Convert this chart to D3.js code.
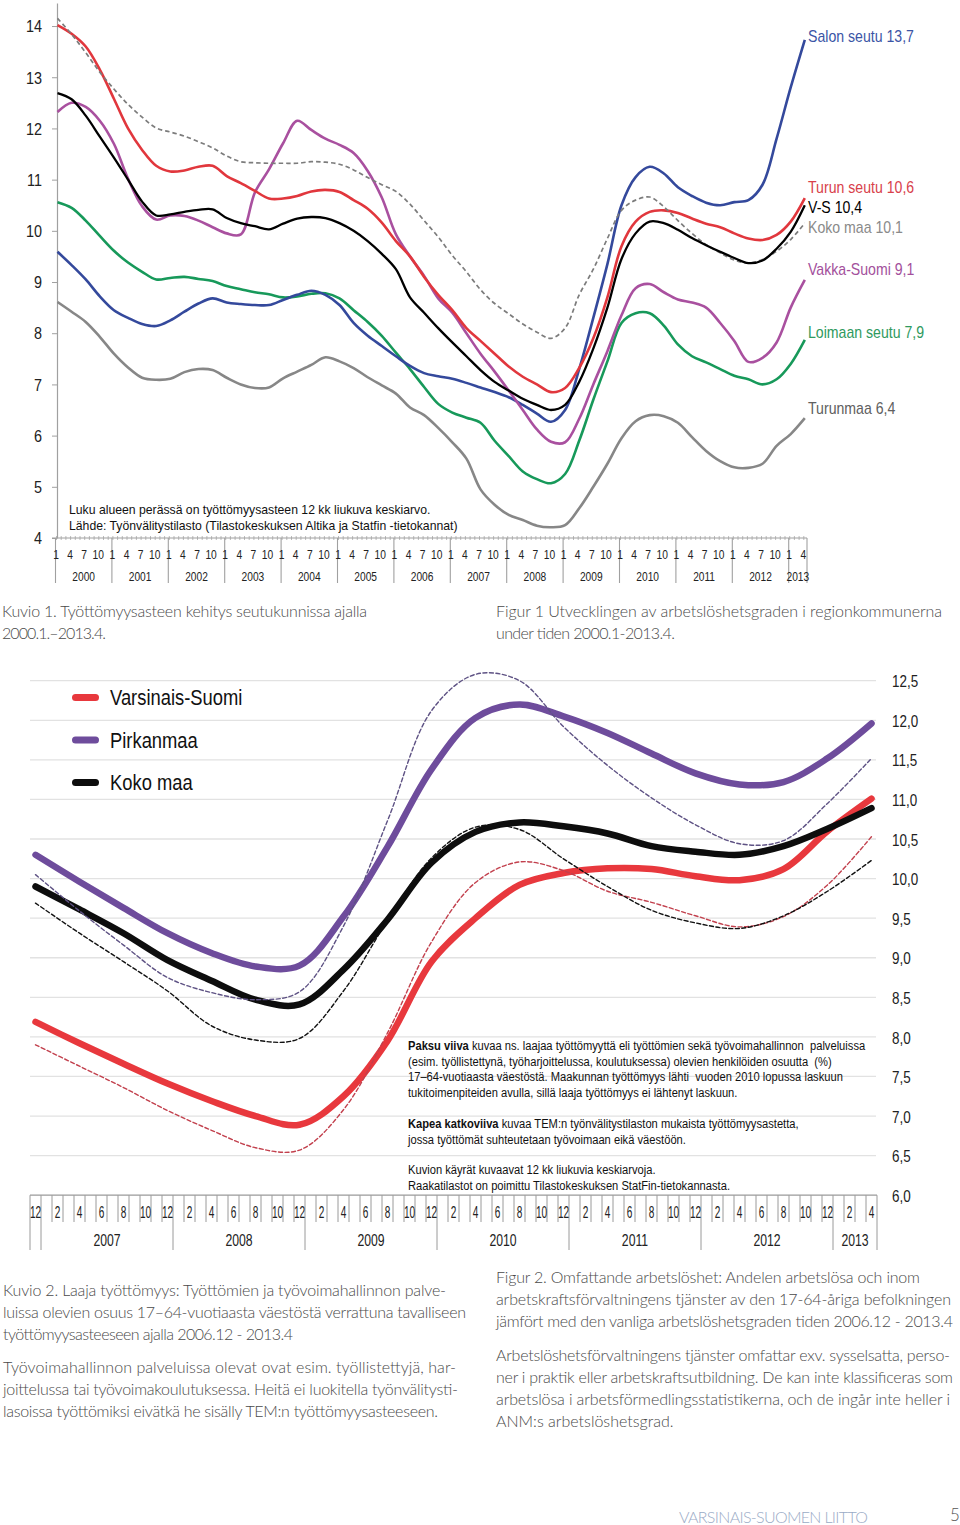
<!DOCTYPE html>
<html><head><meta charset="utf-8">
<script src="https://cdn.jsdelivr.net/npm/d3@7/dist/d3.min.js"></script>
<style>html,body{margin:0;padding:0;background:#fff}svg{display:block}</style>
</head><body>
<svg id="chart" width="960" height="1525" xmlns="http://www.w3.org/2000/svg"></svg>
<script>
// ================= DATA : Kuvio 1 =================
const periods1 = [
 "2000-01","2000-04","2000-07","2000-10","2001-01","2001-04","2001-07","2001-10",
 "2002-01","2002-04","2002-07","2002-10","2003-01","2003-04","2003-07","2003-10",
 "2004-01","2004-04","2004-07","2004-10","2005-01","2005-04","2005-07","2005-10",
 "2006-01","2006-04","2006-07","2006-10","2007-01","2007-04","2007-07","2007-10",
 "2008-01","2008-04","2008-07","2008-10","2009-01","2009-04","2009-07","2009-10",
 "2010-01","2010-04","2010-07","2010-10","2011-01","2011-04","2011-07","2011-10",
 "2012-01","2012-04","2012-07","2012-10","2013-01","2013-04"];
const years1 = ["2000","2001","2002","2003","2004","2005","2006","2007","2008","2009","2010","2011","2012","2013"];
const monthTickLabels1 = ["1","4","7","10"];
const yTicks1 = [4,5,6,7,8,9,10,11,12,13,14];

const salonSeutu = [9.59,9.33,9.05,8.72, 8.45,8.30,8.18,8.14, 8.25,8.42,8.58,8.68, 8.60,8.57,8.55,8.55,
 8.65,8.75,8.83,8.75, 8.55,8.20,7.95,7.75, 7.55,7.36,7.22,7.16, 7.11,7.03,6.94,6.85,
 6.75,6.60,6.43,6.27, 6.50,7.30,8.30,9.35, 10.50,11.05,11.25,11.12, 10.85,10.68,10.55,10.50,
 10.56,10.60,10.90,11.80, 12.80,13.73];
const turunSeutu = [14.02,13.85,13.60,13.15, 12.58,12.00,11.58,11.27, 11.16,11.18,11.25,11.27, 11.07,10.93,10.78,10.63,
 10.63,10.68,10.77,10.80, 10.76,10.60,10.43,10.16, 9.80,9.50,9.10,8.75, 8.45,8.10,7.85,7.60,
 7.35,7.15,7.00,6.85, 6.93,7.32,7.90,8.70, 9.70,10.18,10.37,10.40, 10.35,10.24,10.14,10.07,
 9.95,9.85,9.82,9.92, 10.18,10.64];
const varsinaisSuomi = [12.69,12.57,12.25,11.84, 11.43,11.00,10.57,10.30, 10.32,10.37,10.41,10.42, 10.25,10.15,10.09,10.03,
 10.14,10.24,10.27,10.25, 10.15,10.00,9.80,9.55, 9.25,8.70,8.40,8.10, 7.82,7.55,7.28,7.05,
 6.88,6.72,6.60,6.50, 6.60,7.05,7.70,8.50, 9.45,9.95,10.18,10.15, 10.02,9.86,9.72,9.59,
 9.47,9.37,9.42,9.65, 9.98,10.50];
const kokoMaa = [14.15,13.84,13.48,13.10, 12.77,12.47,12.22,12.01, 11.93,11.85,11.74,11.62, 11.46,11.35,11.33,11.32,
 11.32,11.32,11.35,11.34, 11.30,11.19,11.04,10.90, 10.77,10.52,10.20,9.88, 9.52,9.20,8.85,8.58,
 8.38,8.18,8.02,7.90, 8.10,8.75,9.25,9.85, 10.40,10.60,10.66,10.47, 10.20,9.95,9.73,9.57,
 9.43,9.37,9.44,9.60, 9.83,10.15];
const vakkaSuomi = [12.32,12.50,12.42,12.15, 11.70,11.02,10.48,10.22, 10.30,10.29,10.20,10.07, 9.95,9.93,10.75,11.20,
 11.71,12.15,11.97,11.80, 11.68,11.52,11.17,10.65, 9.93,9.50,9.12,8.68, 8.40,8.00,7.60,7.25,
 6.88,6.50,6.12,5.88, 5.87,6.33,7.00,7.65, 8.35,8.88,8.96,8.80, 8.66,8.60,8.50,8.20,
 7.85,7.44,7.52,7.82, 8.50,9.04];
const loimaanSeutu = [10.56,10.45,10.20,9.90, 9.61,9.38,9.20,9.05, 9.08,9.10,9.06,9.02, 8.92,8.86,8.80,8.76,
 8.70,8.72,8.77,8.78, 8.68,8.45,8.22,7.95, 7.62,7.30,6.95,6.62, 6.45,6.35,6.25,5.90,
 5.60,5.30,5.15,5.07, 5.25,5.90,6.70,7.45, 8.20,8.39,8.39,8.15, 7.78,7.55,7.43,7.30,
 7.17,7.10,7.00,7.10, 7.40,7.87];
const turunmaa = [8.61,8.42,8.22,7.93, 7.60,7.33,7.13,7.09, 7.11,7.24,7.30,7.28, 7.13,7.00,6.93,6.94,
 7.12,7.25,7.38,7.53, 7.45,7.32,7.14,6.98, 6.82,6.55,6.40,6.15, 5.87,5.55,4.95,4.65,
 4.45,4.35,4.24,4.21, 4.25,4.58,5.00,5.45, 5.95,6.28,6.40,6.38, 6.25,5.97,5.70,5.50,
 5.38,5.37,5.45,5.80, 6.03,6.34];
const endLabels1 = ["Salon seutu 13,7","Turun seutu 10,6","V-S 10,4","Koko maa 10,1","Vakka-Suomi 9,1","Loimaan seutu 7,9","Turunmaa 6,4"];

// ================= DATA : Kuvio 2 =================
const periods2 = ["2006-12","2007-04","2007-08","2007-12","2008-04","2008-08","2008-12","2009-04","2009-08","2009-12",
 "2010-04","2010-08","2010-12","2011-04","2011-08","2011-12","2012-04","2012-08","2012-12","2013-04"];
const monthTickLabels2 = ["12","2","4","6","8","10"];
const years2 = ["2007","2008","2009","2010","2011","2012","2013"];
const yTicks2 = [6.0,6.5,7.0,7.5,8.0,8.5,9.0,9.5,10.0,10.5,11.0,11.5,12.0,12.5];
const varsinaisSuomiLaaja = [8.19,7.92,7.66,7.41,7.19,7.00,6.89,7.25,7.95,8.95,9.50,9.92,10.07,10.13,10.12,10.03,9.98,10.12,10.60,11.01];
const pirkanmaaLaaja      = [10.30,9.96,9.63,9.31,9.06,8.89,8.90,9.52,10.40,11.38,12.03,12.20,12.05,11.84,11.58,11.33,11.19,11.22,11.52,11.96];
const kokoMaaLaaja        = [9.90,9.61,9.31,8.97,8.71,8.47,8.41,8.85,9.48,10.20,10.59,10.71,10.66,10.57,10.41,10.34,10.30,10.41,10.63,10.89];
const varsinaisSuomiTem   = [7.90,7.63,7.36,7.07,6.82,6.60,6.57,7.08,8.05,9.20,9.95,10.21,10.10,9.84,9.70,9.53,9.39,9.52,9.92,10.53];
const pirkanmaaTem        = [10.05,9.59,9.16,8.75,8.56,8.47,8.57,9.40,10.73,12.12,12.58,12.50,11.92,11.43,11.02,10.68,10.44,10.48,10.95,11.52];
const kokoMaaTem          = [9.69,9.31,8.95,8.58,8.14,7.96,7.98,8.58,9.47,10.26,10.65,10.62,10.25,9.90,9.60,9.44,9.37,9.53,9.84,10.23];
const legend2 = ["Varsinais-Suomi","Pirkanmaa","Koko maa"];

// ================= RENDER =================
const SANS = '"Liberation Sans",Arial,sans-serif';
const CAPF = 'Lato,"Open Sans","Noto Sans",sans-serif';
const svg = d3.select("#chart");
const parse = p => p.split("-").map(Number);
// condense text horizontally (narrow typeface look)
function squeeze(sel, f){
  sel.each(function(){
    const w = this.getComputedTextLength();
    d3.select(this).attr("textLength", (w*f).toFixed(1)).attr("lengthAdjust","spacingAndGlyphs");
  });
}

// ---------- Kuvio 1 ----------
const idx1 = p => { const [y,m] = parse(p); return (y-2000)*12 + (m-1); };
const x1 = d3.scaleLinear().domain([0,159]).range([57.5,804.8]);
const y1 = d3.scaleLinear().domain([4,14.45]).range([538,3]);
const g1 = svg.append("g");

const yAx1 = g1.append("g").attr("transform","translate(57,0)")
  .call(d3.axisLeft(y1).tickValues(yTicks1).tickSize(5).tickSizeOuter(0).tickPadding(10).tickFormat(d3.format("d")));
yAx1.select(".domain").attr("stroke","#a0a0a0").attr("stroke-width",1.2);
yAx1.selectAll(".tick line").attr("stroke","#a0a0a0");
yAx1.selectAll(".tick text").attr("font-family",SANS).attr("font-size",16).attr("fill","#222").attr("dy","0.36em");
squeeze(yAx1.selectAll(".tick text"), 0.9);

const xAx1 = g1.append("g").attr("transform","translate(-1.5,536)")
  .call(d3.axisBottom(x1).tickValues(d3.range(0,160)).tickSize(4).tickSizeOuter(0).tickFormat(""));
xAx1.select(".domain").remove();
xAx1.selectAll(".tick line").attr("stroke","#aaa").attr("stroke-width",0.8);
g1.append("line").attr("x1",52).attr("x2",807).attr("y1",538).attr("y2",538).attr("stroke","#a0a0a0").attr("stroke-width",1.2);

const yearStart1 = years1.map((y,i)=> i*12);
g1.selectAll(".ysep").data(yearStart1.concat([null])).join("line")
  .attr("x1",d=> d===null ? 807 : x1(d)-2).attr("x2",d=> d===null ? 807 : x1(d)-2)
  .attr("y1",538).attr("y2",583).attr("stroke","#a0a0a0").attr("stroke-width",1.1);
const yl1 = g1.selectAll(".ylab").data(years1).join("text")
  .attr("x",(d,i)=> { const a = x1(i*12)-2, b = i===13 ? 807 : x1(i*12+12)-2; return (a+b)/2; })
  .attr("y",581).attr("text-anchor","middle").attr("font-family",SANS).attr("font-size",12).attr("fill","#222").text(d=>d);
squeeze(yl1, 0.85);
const monthTicks1 = [];
years1.forEach((y,i)=> monthTickLabels1.forEach(m=> { const k = i*12 + (+m-1); if (k<=159) monthTicks1.push({k, m}); }));
const ml1 = g1.selectAll(".mlab").data(monthTicks1).join("text")
  .attr("x",d=> x1(d.k)-1.5).attr("y",559).attr("text-anchor","middle")
  .attr("font-family",SANS).attr("font-size",12).attr("fill","#222").text(d=>d.m);
squeeze(ml1, 0.85);

const series1 = [
  {values: turunmaa,       color:"#878787", w:2.6},
  {values: loimaanSeutu,   color:"#17995a", w:2.6},
  {values: salonSeutu,     color:"#34499c", w:2.6},
  {values: vakkaSuomi,     color:"#a9509f", w:2.6},
  {values: turunSeutu,     color:"#e1373d", w:2.6},
  {values: kokoMaa,        color:"#7c7c7c", w:1.7, dash:"4.5,3"},
  {values: varsinaisSuomi, color:"#000000", w:2.3}
];
const line1 = d3.line().x((d,i)=> x1(idx1(periods1[i]))).y(d=> y1(d)).curve(d3.curveCatmullRom.alpha(0.5));
g1.selectAll(".s1").data(series1).join("path")
  .attr("d",d=> line1(d.values)).attr("fill","none").attr("stroke",d=>d.color)
  .attr("stroke-width",d=>d.w).attr("stroke-dasharray",d=>d.dash||null).attr("stroke-linejoin","round");

const labelStyle1 = [
  {color:"#3b55a6", y:36}, {color:"#d8414b", y:187}, {color:"#000", y:207}, {color:"#8a8a8a", y:227},
  {color:"#a3509c", y:269}, {color:"#2f9a60", y:332}, {color:"#606060", y:408}];
const el1 = g1.selectAll(".elab").data(endLabels1).join("text")
  .attr("x",808).attr("y",(d,i)=> labelStyle1[i].y).attr("dy","0.36em")
  .attr("font-family",SANS).attr("font-size",17).attr("fill",(d,i)=> labelStyle1[i].color).text(d=>d);
squeeze(el1, 0.83);

const nt1 = g1.selectAll(".nt1").data([
  "Luku alueen perässä on työttömyysasteen 12 kk liukuva keskiarvo.",
  "Lähde: Työnvälitystilasto (Tilastokeskuksen Altika ja Statfin -tietokannat)"]).join("text")
  .attr("x",69).attr("y",(d,i)=> 514 + i*16).attr("font-family",SANS).attr("font-size",13).attr("fill","#111").text(d=>d);
squeeze(nt1, 0.94);

// ---------- Kuvio 2 ----------
const idx2 = p => { const [y,m] = parse(p); return (y-2006)*12 + (m-12); };
const x2 = d3.scaleLinear().domain([0,77]).range([30,877]);
const y2 = d3.scaleLinear().domain([6,12.5]).range([1195.2,680.7]);
const g2 = svg.append("g");

g2.selectAll(".grid").data(yTicks2.filter(v=> v>6)).join("line")
  .attr("x1",30).attr("x2",876).attr("y1",d=>y2(d)).attr("y2",d=>y2(d))
  .attr("stroke","#e2e2e2").attr("stroke-width",1.3);
const yAx2 = g2.append("g").attr("transform","translate(876,0)")
  .call(d3.axisRight(y2).tickValues(yTicks2).tickSize(0).tickPadding(16).tickFormat(d=> d3.format(".1f")(d).replace(".",",")));
yAx2.select(".domain").remove();
yAx2.selectAll(".tick text").attr("font-family",SANS).attr("font-size",17).attr("fill","#222").attr("dy","0.36em");
squeeze(yAx2.selectAll(".tick text"), 0.79);

g2.append("line").attr("x1",30).attr("x2",877).attr("y1",1195.2).attr("y2",1195.2).attr("stroke","#9a9a9a").attr("stroke-width",1.2);
const yearBounds2 = [0,1,13,25,37,49,61,73,77];
g2.selectAll(".tk2").data(d3.range(0,78)).join("line")
  .attr("x1",d=>x2(d)).attr("x2",d=>x2(d)).attr("y1",1195.2)
  .attr("y2",d=> yearBounds2.includes(d) ? 1250 : 1222)
  .attr("stroke","#9a9a9a").attr("stroke-width",1);
const monthTicks2 = d3.range(0,77,2).map(i=> ({i, m: monthTickLabels2[(i/2)%6]}));
const ml2 = g2.selectAll(".ml2").data(monthTicks2).join("text")
  .attr("x",d=> x2(d.i+0.5)).attr("y",1218).attr("text-anchor","middle")
  .attr("font-family",SANS).attr("font-size",16).attr("fill","#222").text(d=>d.m);
squeeze(ml2, 0.63);
const yl2 = g2.selectAll(".yl2").data(years2).join("text")
  .attr("x",(d,i)=> (x2(yearBounds2[i+1]) + x2(yearBounds2[i+2]))/2).attr("y",1246).attr("text-anchor","middle")
  .attr("font-family",SANS).attr("font-size",17).attr("fill","#222").text(d=>d);
squeeze(yl2, 0.72);

const line2 = d3.line().x((d,i)=> x2(idx2(periods2[i])+0.5)).y(d=> y2(d)).curve(d3.curveCatmullRom.alpha(0.5));
const series2 = [
  {values: varsinaisSuomiLaaja, color:"#e8383d", w:6.5},
  {values: kokoMaaLaaja,        color:"#0d0d0d", w:6.5},
  {values: pirkanmaaLaaja,      color:"#6e4c9c", w:6.5},
  {values: varsinaisSuomiTem,   color:"#c2404d", w:1.4, dash:"4,2.5"},
  {values: pirkanmaaTem,        color:"#5e5284", w:1.4, dash:"4,2.5"},
  {values: kokoMaaTem,          color:"#111111", w:1.4, dash:"4,2.5"}
];
g2.selectAll(".s2").data(series2).join("path")
  .attr("d",d=> line2(d.values)).attr("fill","none").attr("stroke",d=>d.color)
  .attr("stroke-width",d=>d.w).attr("stroke-dasharray",d=>d.dash||null)
  .attr("stroke-linecap","round").attr("stroke-linejoin","round");

const legendColors = ["#e8383d","#6e4c9c","#0d0d0d"];
const legendY = [697.5,740,782.5];
const lg = g2.selectAll(".lg").data(legend2).join("g");
lg.append("line").attr("x1",75.5).attr("x2",95.5).attr("y1",(d,i)=>legendY[i]).attr("y2",(d,i)=>legendY[i])
  .attr("stroke",(d,i)=>legendColors[i]).attr("stroke-width",7).attr("stroke-linecap","round");
const lgt = lg.append("text").attr("x",110).attr("y",(d,i)=>legendY[i]+7.5)
  .attr("font-family",SANS).attr("font-size",22).attr("fill","#111").text(d=>d);
squeeze(lgt, 0.835);

const note = [
  {y:1050, b:"Paksu viiva", t:" kuvaa ns. laajaa työttömyyttä eli työttömien sekä työvoimahallinnon  palveluissa"},
  {y:1065.5, t:"(esim. työllistettynä, työharjoittelussa, koulutuksessa) olevien henkilöiden osuutta  (%)"},
  {y:1081, t:"17–64-vuotiaasta väestöstä. Maakunnan työttömyys lähti  vuoden 2010 lopussa laskuun"},
  {y:1096.5, t:"tukitoimenpiteiden avulla, sillä laaja työttömyys ei lähtenyt laskuun."},
  {y:1128, b:"Kapea katkoviiva", t:" kuvaa TEM:n työnvälitystilaston mukaista työttömyysastetta,"},
  {y:1143.5, t:"jossa työttömät suhteutetaan työvoimaan eikä väestöön."},
  {y:1174, t:"Kuvion käyrät kuvaavat 12 kk liukuvia keskiarvoja."},
  {y:1189.5, t:"Raakatilastot on poimittu Tilastokeskuksen StatFin-tietokannasta."}
];
const nt = g2.selectAll(".nt").data(note).join("text").attr("x",408).attr("y",d=>d.y)
  .attr("font-family",SANS).attr("font-size",12).attr("fill","#111").style("white-space","pre");
nt.each(function(d){
  const s = d3.select(this);
  if (d.b) s.append("tspan").attr("font-weight","bold").text(d.b);
  s.append("tspan").text(d.t);
});
squeeze(nt, 0.93);

// ---------- captions ----------
function cap(x,y,str,len,size,color){
  const t = svg.append("text").attr("x",x).attr("y",y).attr("font-family",CAPF).attr("font-weight",300)
    .attr("font-size",size||16).attr("fill",color||"#4a4a4a").text(str);
  if (len) t.attr("textLength",len).attr("lengthAdjust","spacing");
  return t;
}
cap(2,617,"Kuvio 1. Työttömyysasteen kehitys seutukunnissa ajalla",365);
cap(2,639,"2000.1.–2013.4.",104);
cap(496,617,"Figur 1 Utvecklingen av arbetslöshetsgraden i regionkommunerna",446);
cap(496,639,"under tiden 2000.1-2013.4.",179);

cap(3,1296,"Kuvio 2. Laaja työttömyys: Työttömien ja työvoimahallinnon palve-",443);
cap(3,1318,"luissa olevien osuus 17–64-vuotiaasta väestöstä verrattuna tavalliseen",463);
cap(3,1340,"työttömyysasteeseen ajalla 2006.12 - 2013.4",290);
cap(3,1373,"Työvoimahallinnon palveluissa olevat ovat esim. työllistettyjä, har-",453);
cap(3,1395,"joittelussa tai työvoimakoulutuksessa. Heitä ei luokitella työnvälitysti-",455);
cap(3,1417,"lasoissa työttömiksi eivätkä he sisälly TEM:n työttömyysasteeseen.",435);

cap(496,1283,"Figur 2. Omfattande arbetslöshet: Andelen arbetslösa och inom",424);
cap(496,1305,"arbetskraftsförvaltningens tjänster av den 17-64-åriga befolkningen",455);
cap(496,1327,"jämfört med den vanliga arbetslöshetsgraden tiden 2006.12 - 2013.4",457);
cap(496,1361,"Arbetslöshetsförvaltningens tjänster omfattar exv. sysselsatta, perso-",454);
cap(496,1383,"ner i praktik eller arbetskraftsutbildning. De kan inte klassificeras som",457);
cap(496,1405,"arbetslösa i arbetsförmedlingsstatistikerna, och de ingår inte heller i",454);
cap(496,1427,"ANM:s arbetslöshetsgrad.");

cap(679,1523,"VARSINAIS-SUOMEN LIITTO",189,16,"#9aabc6");
cap(950,1521,"5",null,17,"#555");
</script>
</body></html>
